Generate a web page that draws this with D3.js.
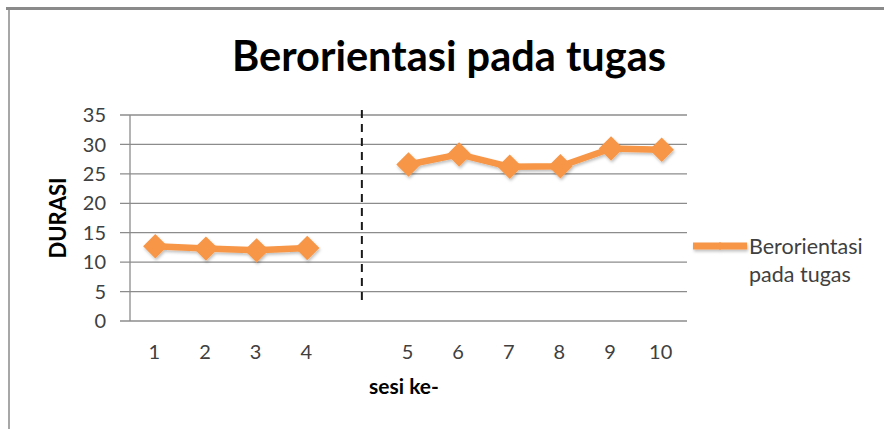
<!DOCTYPE html>
<html>
<head>
<meta charset="utf-8">
<script src="https://cdn.jsdelivr.net/npm/d3@7"></script>
<style>
  body { margin: 0; background: #fff; }
  svg { display: block; font-family: Lato, "Open Sans", sans-serif; }
</style>
</head>
<body>
<div id="chart"></div>
<script>
// Data
const categories = ['1', '2', '3', '4', 'gap', '5', '6', '7', '8', '9', '10'];
const durasi = [12.7, 12.3, 12.0, 12.4, null, 26.6, 28.3, 26.2, 26.3, 29.3, 29.1];
const yTicks = [0, 5, 10, 15, 20, 25, 30, 35];
const seriesName = 'Berorientasi pada tugas';

const width = 884, height = 429;
const margin = {top: 115, right: 197, bottom: 108, left: 130};
const color = '#F79646';

const svg = d3.select('#chart').append('svg')
    .attr('width', width)
    .attr('height', height);

// soft shadow like the office chart
const defs = svg.append('defs');
defs.append('filter').attr('id', 'shadow')
    .attr('filterUnits', 'userSpaceOnUse')
    .attr('x', 0).attr('y', 0).attr('width', width).attr('height', height)
    .append('feDropShadow')
    .attr('dx', 1).attr('dy', 2).attr('stdDeviation', 1.5)
    .attr('flood-color', '#000').attr('flood-opacity', 0.25);

// outer frame (top and left edges visible)
svg.append('line').attr('x1', 6).attr('x2', width).attr('y1', 8.5).attr('y2', 8.5)
    .attr('stroke', '#8a8a8a').attr('stroke-width', 3);
svg.append('line').attr('x1', 9).attr('x2', 9).attr('y1', 8).attr('y2', height)
    .attr('stroke', '#8a8a8a').attr('stroke-width', 1.5);

const x = d3.scaleBand()
    .domain(categories)
    .range([margin.left, width - margin.right]);

const y = d3.scaleLinear()
    .domain([0, 35])
    .range([height - margin.bottom, margin.top]);

// gridlines
svg.append('g')
    .selectAll('line')
    .data(yTicks)
    .join('line')
    .attr('x1', margin.left - 10)
    .attr('x2', width - margin.right)
    .attr('y1', d => y(d))
    .attr('y2', d => y(d))
    .attr('stroke', '#8c8c8c')
    .attr('stroke-width', 1.3);

// y axis line
svg.append('line')
    .attr('x1', margin.left).attr('x2', margin.left)
    .attr('y1', y(35)).attr('y2', y(0))
    .attr('stroke', '#8c8c8c').attr('stroke-width', 1.3);

// y tick labels
svg.append('g')
    .selectAll('text')
    .data(yTicks)
    .join('text')
    .attr('x', 106)
    .attr('y', d => y(d))
    .attr('dy', '0.36em')
    .attr('text-anchor', 'end')
    .attr('font-size', 20)
    .attr('fill', '#404040')
    .text(d => d);

// x tick labels
svg.append('g')
    .selectAll('text')
    .data(categories.filter(c => c !== 'gap'))
    .join('text')
    .attr('x', d => x(d) + x.bandwidth() / 2 - 1)
    .attr('y', 352)
    .attr('dy', '0.36em')
    .attr('text-anchor', 'middle')
    .attr('font-size', 20)
    .attr('fill', '#404040')
    .text(d => d);

// dashed separator between the phases
const gapX = x('gap') + x.bandwidth() / 2 + 4;
svg.append('line')
    .attr('x1', gapX).attr('x2', gapX)
    .attr('y1', 110).attr('y2', 302)
    .attr('stroke', '#1a1a1a')
    .attr('stroke-width', 2)
    .attr('stroke-dasharray', '8,6');

// series line
const pts = categories.map((c, i) => ({c, v: durasi[i]}));
const line = d3.line()
    .defined(d => d.v != null)
    .x(d => x(d.c) + x.bandwidth() / 2)
    .y(d => y(d.v));

const series = svg.append('g').attr('filter', 'url(#shadow)');
series.append('path')
    .datum(pts)
    .attr('d', line)
    .attr('fill', 'none')
    .attr('stroke', color)
    .attr('stroke-width', 6.5)
    .attr('stroke-linejoin', 'round');

const diamond = d3.symbol().type(d3.symbolDiamond2).size(380);
series.selectAll('path.pt')
    .data(pts.filter(d => d.v != null))
    .join('path')
    .attr('class', 'pt')
    .attr('d', diamond)
    .attr('transform', d => `translate(${x(d.c) + x.bandwidth() / 2},${y(d.v)})`)
    .attr('fill', color);

// title
svg.append('text')
    .attr('x', 449)
    .attr('y', 71)
    .attr('text-anchor', 'middle')
    .attr('font-size', 41.5)
    .attr('font-weight', 'bold')
    .attr('fill', '#000')
    .text(seriesName);

// axis titles
svg.append('text')
    .attr('transform', 'translate(66,218) rotate(-90)')
    .attr('text-anchor', 'middle')
    .attr('font-size', 22)
    .attr('font-weight', 'bold')
    .attr('fill', '#000')
    .text('DURASI');

svg.append('text')
    .attr('x', 404)
    .attr('y', 394)
    .attr('text-anchor', 'middle')
    .attr('font-size', 21)
    .attr('font-weight', 'bold')
    .attr('fill', '#000')
    .text('sesi ke-');

// legend
const legend = svg.append('g').attr('filter', 'url(#shadow)');
legend.append('line')
    .attr('x1', 693).attr('x2', 747)
    .attr('y1', 246).attr('y2', 246)
    .attr('stroke', color).attr('stroke-width', 7);
legend.append('path')
    .attr('d', d3.symbol().type(d3.symbolDiamond2).size(40))
    .attr('transform', 'translate(720,246)')
    .attr('fill', color);
svg.append('g').selectAll('text')
    .data(['Berorientasi', 'pada tugas'])
    .join('text')
    .attr('x', 749)
    .attr('y', (d, i) => 254 + i * 28)
    .attr('font-size', 21.5)
    .attr('fill', '#404040')
    .text(d => d);
</script>
</body>
</html>
